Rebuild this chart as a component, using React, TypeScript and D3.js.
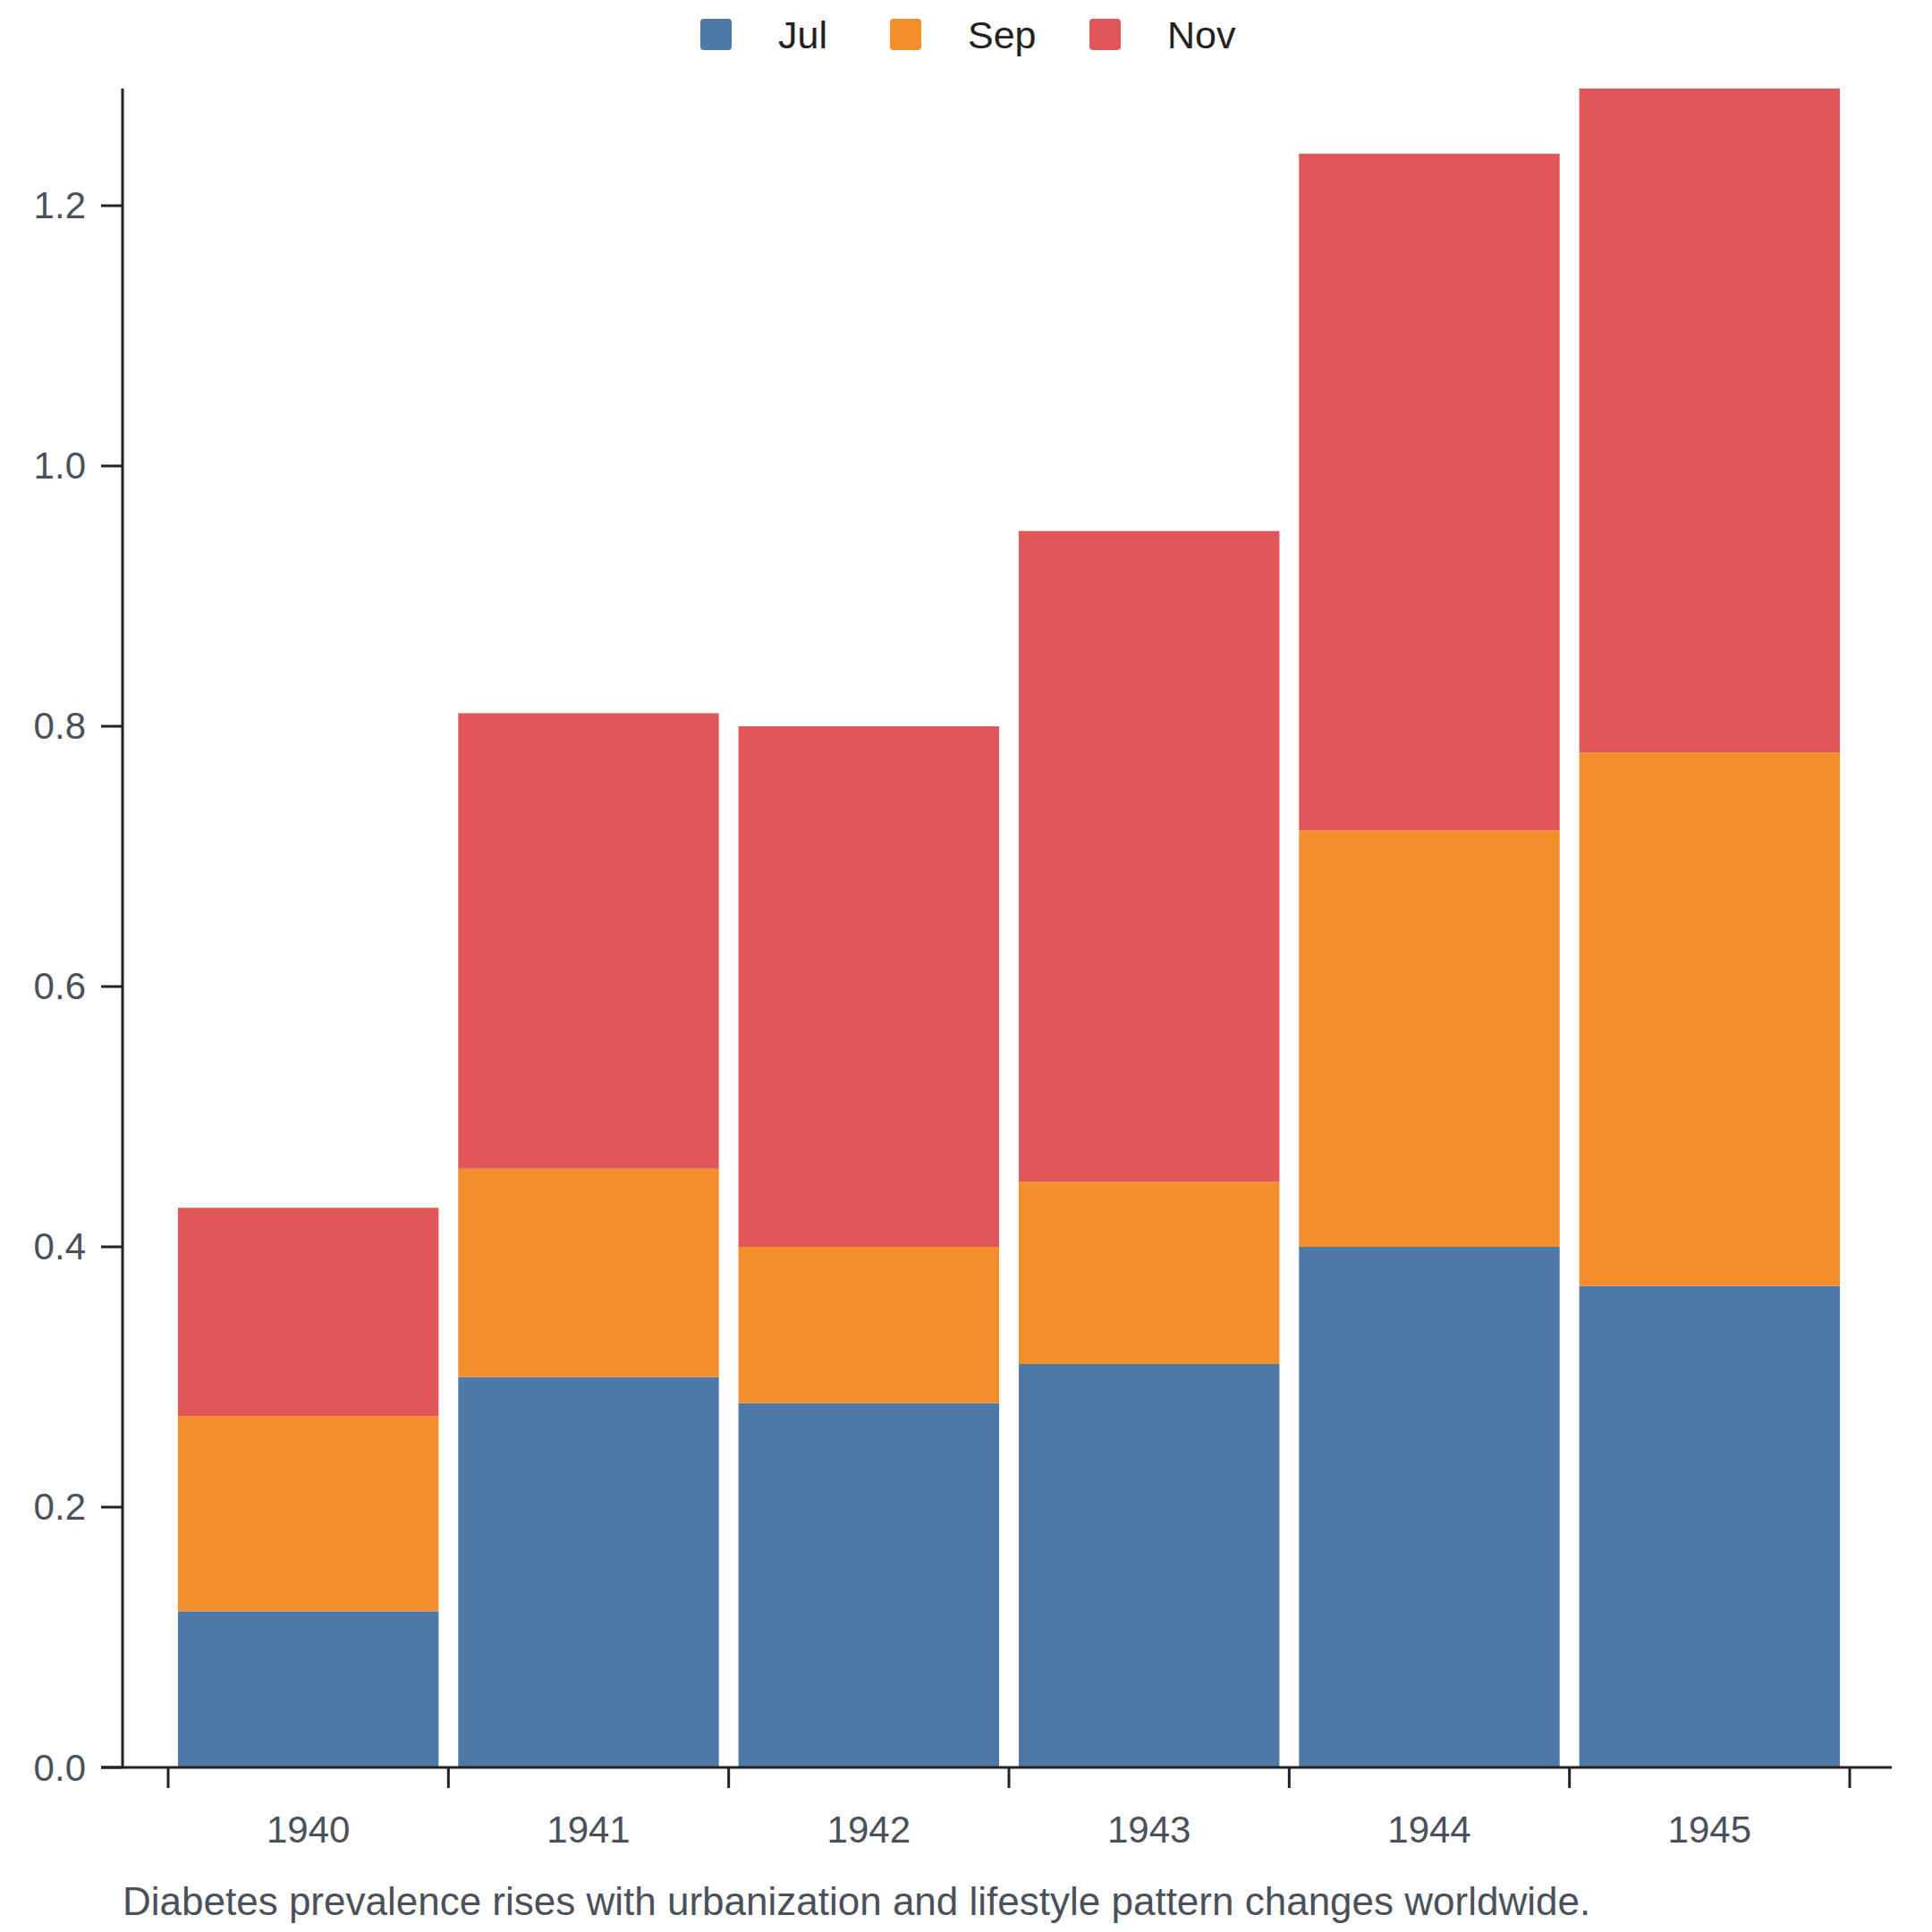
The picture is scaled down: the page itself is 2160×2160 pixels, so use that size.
import React from "react";
import * as d3 from "d3";

const years = ["1940", "1941", "1942", "1943", "1944", "1945"];
const seriesNames = ["Jul", "Sep", "Nov"];
const julValues = [0.12, 0.3, 0.28, 0.31, 0.4, 0.37];
const sepValues = [0.15, 0.16, 0.12, 0.14, 0.32, 0.41];
const novValues = [0.16, 0.35, 0.4, 0.5, 0.52, 0.51];
const colors = ["#4e79a7", "#f28e2b", "#e15759"];
const yTicks = [0, 0.2, 0.4, 0.6, 0.8, 1.0, 1.2];
const caption = "Diabetes prevalence rises with urbanization and lifestyle pattern changes worldwide.";

const W = 2160;
const H = 2160;
const axisX = 137;
const axisY = 1976;
const plotTop = 99;
const bandLeft = 188;
const bandRight = 2068;
const axisRight = 2115;
const FONT = "'Liberation Sans', Arial, Helvetica, sans-serif";

export default function App() {
  const table = years.map((y, i) => ({
    year: y,
    Jul: julValues[i],
    Sep: sepValues[i],
    Nov: novValues[i],
  }));
  const stack = d3.stack<any>().keys(seriesNames)(table);
  const maxTotal = d3.max(table, (d) => d.Jul + d.Sep + d.Nov) as number;

  const x = d3
    .scaleBand<string>()
    .domain(years)
    .range([bandLeft, bandRight])
    .paddingInner(0.07)
    .paddingOuter(0.035);
  const y = d3.scaleLinear().domain([0, maxTotal]).range([axisY, plotTop]);
  const step = x.step();
  const boundaries = d3.range(years.length + 1).map((i) => bandLeft + i * step);

  const legendOffsets = [0, 212, 435];
  const legendX = 783;

  return (
    <svg
      width={W}
      height={H}
      viewBox={`0 0 ${W} ${H}`}
      style={{ position: "absolute", left: 0, top: 0, background: "#fff" }}
      fontFamily={FONT}
    >
      <rect x={0} y={0} width={W} height={H} fill="#fff" />
      {/* bars */}
      {stack.map((layer, si) => (
        <g key={seriesNames[si]} fill={colors[si]}>
          {layer.map((d, i) => (
            <rect
              key={years[i]}
              x={x(years[i])}
              y={y(d[1])}
              width={x.bandwidth()}
              height={y(d[0]) - y(d[1])}
            />
          ))}
        </g>
      ))}
      {/* y axis */}
      <line x1={axisX} x2={axisX} y1={plotTop} y2={axisY} stroke="#222" strokeWidth={3} />
      {yTicks.map((t) => (
        <g key={t}>
          <line x1={axisX - 24} x2={axisX} y1={y(t)} y2={y(t)} stroke="#222" strokeWidth={3} />
          <text
            x={96}
            y={y(t)}
            textAnchor="end"
            dominantBaseline="central"
            fontSize={42}
            fill="#4a515c"
          >
            {d3.format(".1f")(t)}
          </text>
        </g>
      ))}
      {/* x axis */}
      <line x1={axisX - 24} x2={axisRight} y1={axisY} y2={axisY} stroke="#222" strokeWidth={3} />
      {boundaries.map((bx, i) => (
        <line key={i} x1={bx} x2={bx} y1={axisY} y2={axisY + 23} stroke="#222" strokeWidth={3} />
      ))}
      {years.map((yr) => (
        <text
          key={yr}
          x={(x(yr) as number) + x.bandwidth() / 2}
          y={2060}
          textAnchor="middle"
          fontSize={42}
          fill="#4a515c"
        >
          {yr}
        </text>
      ))}
      {/* legend */}
      {seriesNames.map((name, i) => (
        <g key={name} transform={`translate(${legendX + legendOffsets[i]},21)`}>
          <rect x={0} y={0} width={35} height={35} rx={4} fill={colors[i]} />
          <text x={87} y={18} dominantBaseline="central" fontSize={43} fill="#222">
            {name}
          </text>
        </g>
      ))}
      {/* caption */}
      <text x={137} y={2141} fontSize={44} fill="#4a515c">
        {caption}
      </text>
    </svg>
  );
}
